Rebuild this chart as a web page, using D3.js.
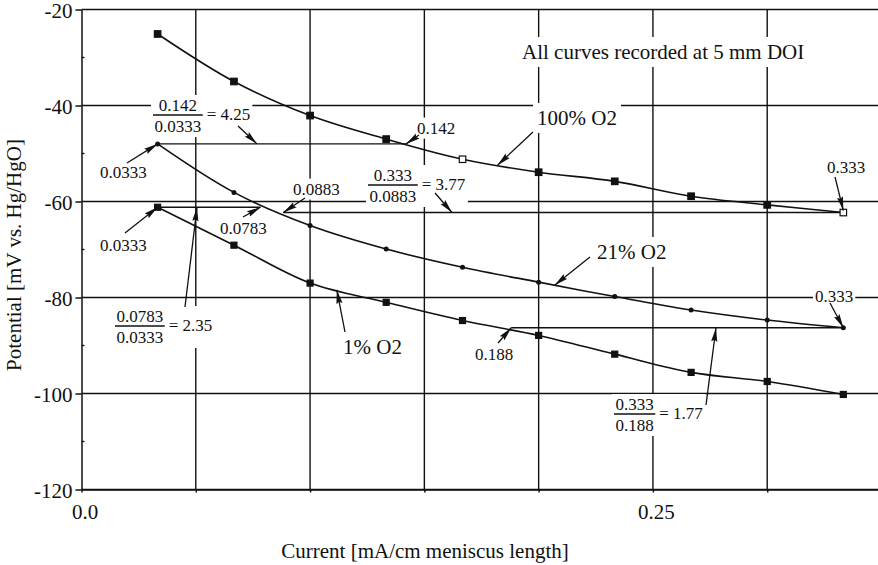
<!DOCTYPE html>
<html>
<head>
<meta charset="utf-8">
<script src="https://cdn.jsdelivr.net/npm/d3@7"></script>
<style>
  body { margin: 0; background: #fff; }
  svg text { font-family: "Liberation Serif", "Times New Roman", serif; fill: #111; }
</style>
</head>
<body>
<svg id="chart" width="878" height="565"></svg>
<script>
// Current density [mA/cm meniscus length] at which each potential was recorded
const current = [0.0333, 0.0667, 0.1, 0.1333, 0.1667, 0.2, 0.2333, 0.2667, 0.3, 0.3333];
// Potential [mV vs. Hg/HgO] for each oxygen concentration
const o2_100 = [-25.1, -35.0, -42.1, -47.0, -51.2, -53.9, -55.8, -58.9, -60.7, -62.3];
const o2_21  = [-48.0, -58.1, -65.0, -69.9, -73.7, -76.8, -79.8, -82.6, -84.7, -86.3];
const o2_1   = [-61.2, -69.1, -77.0, -81.0, -84.8, -87.9, -91.8, -95.6, -97.5, -100.2];

// Axis ticks
const yTicks = [-20, -40, -60, -80, -100, -120];
const yMinorTicks = [-30, -50, -70, -90, -110];
const xTicks = [0, 0.05, 0.1, 0.15, 0.2, 0.25, 0.3, 0.35];
const xLabelValues = [0, 0.25];
const xLabelTexts = ["0.0", "0.25"];

// Equal-potential currents and the resulting current ratios
const crossCurrents = [0.142, 0.0883, 0.0783, 0.188];
const ratioNum = ["0.142", "0.333", "0.0783", "0.333"];
const ratioDen = ["0.0333", "0.0883", "0.0333", "0.188"];
const ratioVal = ["4.25", "3.77", "2.35", "1.77"];

const svg = d3.select("#chart");
const x = d3.scaleLinear().domain([0, 0.35]).range([81.5, 881.5]);
const y = d3.scaleLinear().domain([-120, -20]).range([489.5, 9.5]);
const INK = "#111";

// piecewise value of a series at a given current
const at = (series, c) => d3.scaleLinear().domain(current).range(series)(c);

const defs = svg.append("defs");
defs.append("marker")
  .attr("id", "head").attr("viewBox", "0 0 14 7")
  .attr("refX", 14).attr("refY", 3.5)
  .attr("markerWidth", 14).attr("markerHeight", 7)
  .attr("markerUnits", "userSpaceOnUse").attr("orient", "auto")
  .append("path").attr("d", "M0,0.4 L14,3.5 L0,6.6 L2,3.5 Z").attr("fill", INK);

// ---- grid ----
const grid = svg.append("g").attr("stroke", INK).attr("stroke-width", 1.4);
grid.selectAll("line.h").data(yTicks).join("line")
  .attr("x1", x(0)).attr("x2", x(0.35))
  .attr("y1", d => y(d)).attr("y2", d => y(d));
grid.selectAll("line.v").data(xTicks.slice(1)).join("line")
  .attr("x1", d => x(d)).attr("x2", d => x(d))
  .attr("y1", y(-20)).attr("y2", y(-120));
grid.selectAll("line.m").data(yMinorTicks).join("line")
  .attr("x1", x(0)).attr("x2", x(0) + 3)
  .attr("y1", d => y(d)).attr("y2", d => y(d));

// ---- axes ----
const yAxis = svg.append("g").attr("transform", `translate(${x(0)},0)`)
  .call(d3.axisLeft(y).tickValues(yTicks).tickSize(6).tickSizeOuter(0).tickPadding(3)
    .tickFormat(d => String(d)));
const xAxis = svg.append("g").attr("transform", `translate(0,${y(-120)})`)
  .call(d3.axisBottom(x).tickValues(xTicks).tickSize(3).tickSizeOuter(0).tickPadding(12)
    .tickFormat(d => {
      const i = xLabelValues.findIndex(v => Math.abs(v - d) < 1e-9);
      return i < 0 ? "" : xLabelTexts[i];
    }));
[yAxis, xAxis].forEach(g => {
  g.attr("font-family", null).attr("font-size", null);
  g.selectAll("path,line").attr("stroke", INK).attr("stroke-width", 1.5);
  g.selectAll("text").attr("font-size", 21).attr("fill", INK);
});
yAxis.selectAll("text").attr("dy", "0.38em");
xAxis.selectAll("text").attr("dx", 3);

svg.append("text").attr("x", 425).attr("y", 558).attr("text-anchor", "middle")
  .attr("font-size", 21).text("Current [mA/cm meniscus length]");
svg.append("text").attr("transform", "translate(21,255) rotate(-90)")
  .attr("text-anchor", "middle").attr("font-size", 21).text("Potential [mV vs. Hg/HgO]");

// ---- equal-potential guide lines ----
const guides = [
  { level: o2_21[0],  from: current[0],       to: crossCurrents[0] },
  { level: o2_100[9], from: crossCurrents[1], to: current[9] },
  { level: o2_1[0],   from: current[0],       to: crossCurrents[2] },
  { level: o2_21[9],  from: crossCurrents[3], to: current[9] }
];
svg.append("g").attr("stroke", INK).attr("stroke-width", 1.4)
  .selectAll("line").data(guides).join("line")
  .attr("x1", d => x(d.from)).attr("x2", d => x(d.to))
  .attr("y1", d => y(d.level)).attr("y2", d => y(d.level));

// ---- labels with white backing ----
const labels = svg.append("g");
function backed(node, pad) {
  const b = node.getBBox();
  d3.select(node.parentNode).insert("rect", () => node)
    .attr("x", b.x - pad).attr("y", b.y - pad + 1)
    .attr("width", b.width + 2 * pad).attr("height", b.height + 2 * pad - 2)
    .attr("fill", "#fff");
}
function label(txt, lx, cy, size, pad = 2) {
  const g = labels.append("g");
  const t = g.append("text").attr("x", lx).attr("y", cy + size * 0.33)
    .attr("font-size", size).text(txt);
  backed(t.node(), pad);
  return t;
}
function fraction(i, left, barY) {
  const g = labels.append("g");
  const fs = 17;
  const n = g.append("text").attr("font-size", fs).attr("text-anchor", "middle").text(ratioNum[i]);
  const d = g.append("text").attr("font-size", fs).attr("text-anchor", "middle").text(ratioDen[i]);
  const w = Math.max(n.node().getComputedTextLength(), d.node().getComputedTextLength()) + 3;
  n.attr("x", left + w / 2).attr("y", barY - 4);
  d.attr("x", left + w / 2).attr("y", barY + 17);
  g.append("line").attr("x1", left).attr("x2", left + w)
    .attr("y1", barY).attr("y2", barY).attr("stroke", INK).attr("stroke-width", 1.3);
  g.append("text").attr("font-size", fs).attr("x", left + w + 4).attr("y", barY + 5)
    .text("= " + ratioVal[i]);
  backed(g.node(), 2);
}

label("All curves recorded at 5 mm DOI", 522, 52, 21, 4);
label("100% O2", 537, 118, 21, 4);
label("21% O2", 597, 252, 21, 4);
label("1% O2", 343, 347, 21, 3);
label("0.0333", 100, 172, 17);
label("0.142", 417, 128, 17);
label("0.333", 827, 167, 17);
label("0.0883", 293, 189, 17);
label("0.0783", 220, 228, 17);
label("0.0333", 100, 245, 17);
label("0.333", 815, 296, 17);
label("0.188", 475, 354, 17);
fraction(0, 153, 115);
fraction(1, 368, 185);
fraction(2, 115, 326);
fraction(3, 614, 414);

// ---- curves ----
const series = [
  { values: o2_100, shape: "square", size: 6.5 },
  { values: o2_21,  shape: "dot",    size: 5 },
  { values: o2_1,   shape: "square", size: 6 }
];
const hollow100 = new Set([4, 9]);
const line = d3.line().x((d, i) => x(current[i])).y(d => y(d))
  .curve(d3.curveCatmullRom.alpha(0.5));
const plot = svg.append("g");
series.forEach((s, si) => {
  plot.append("path").attr("d", line(s.values))
    .attr("fill", "none").attr("stroke", INK).attr("stroke-width", 1.6);
  const pts = plot.append("g").selectAll("g").data(s.values).join("g")
    .attr("transform", (d, i) => `translate(${x(current[i])},${y(d)})`);
  if (s.shape === "square") {
    pts.append("rect").attr("x", -s.size / 2).attr("y", -s.size / 2)
      .attr("width", s.size).attr("height", s.size)
      .attr("fill", (d, i) => si === 0 && hollow100.has(i) ? "#fff" : INK)
      .attr("stroke", INK).attr("stroke-width", 1.2);
  } else {
    pts.append("circle").attr("r", s.size / 2).attr("fill", INK);
  }
});

// ---- arrows (tail in pixels, head on a data point) ----
const arrows = [
  { tail: [127, 163], head: [x(current[0]), y(o2_21[0])] },
  { tail: [238, 126], head: [257, y(o2_21[0])] },
  { tail: [419, 135], head: [x(crossCurrents[0]), y(o2_21[0])] },
  { tail: [533, 132], head: [x(0.182), y(at(o2_100, 0.182))] },
  { tail: [835, 177], head: [x(current[9]), y(o2_100[9]) - 2] },
  { tail: [305, 198], head: [x(crossCurrents[1]), y(o2_100[9])] },
  { tail: [435, 193], head: [452, y(o2_100[9])] },
  { tail: [243, 217], head: [x(crossCurrents[2]), y(o2_1[0])] },
  { tail: [125, 233], head: [x(current[0]), y(o2_1[0])] },
  { tail: [185, 307], head: [197, y(o2_1[0])] },
  { tail: [590, 257], head: [x(0.207), y(at(o2_21, 0.207))] },
  { tail: [830, 303], head: [x(current[9]), y(o2_21[9])] },
  { tail: [345, 332], head: [x(0.1117), y(at(o2_1, 0.1117))] },
  { tail: [498, 343], head: [x(crossCurrents[3]), y(o2_21[9])] },
  { tail: [706, 405], head: [716, y(o2_21[9])] }
];
svg.append("g").selectAll("line").data(arrows).join("line")
  .attr("x1", d => d.tail[0]).attr("y1", d => d.tail[1])
  .attr("x2", d => d.head[0]).attr("y2", d => d.head[1])
  .attr("stroke", INK).attr("stroke-width", 1.3)
  .attr("marker-end", "url(#head)");
</script>
</body>
</html>
